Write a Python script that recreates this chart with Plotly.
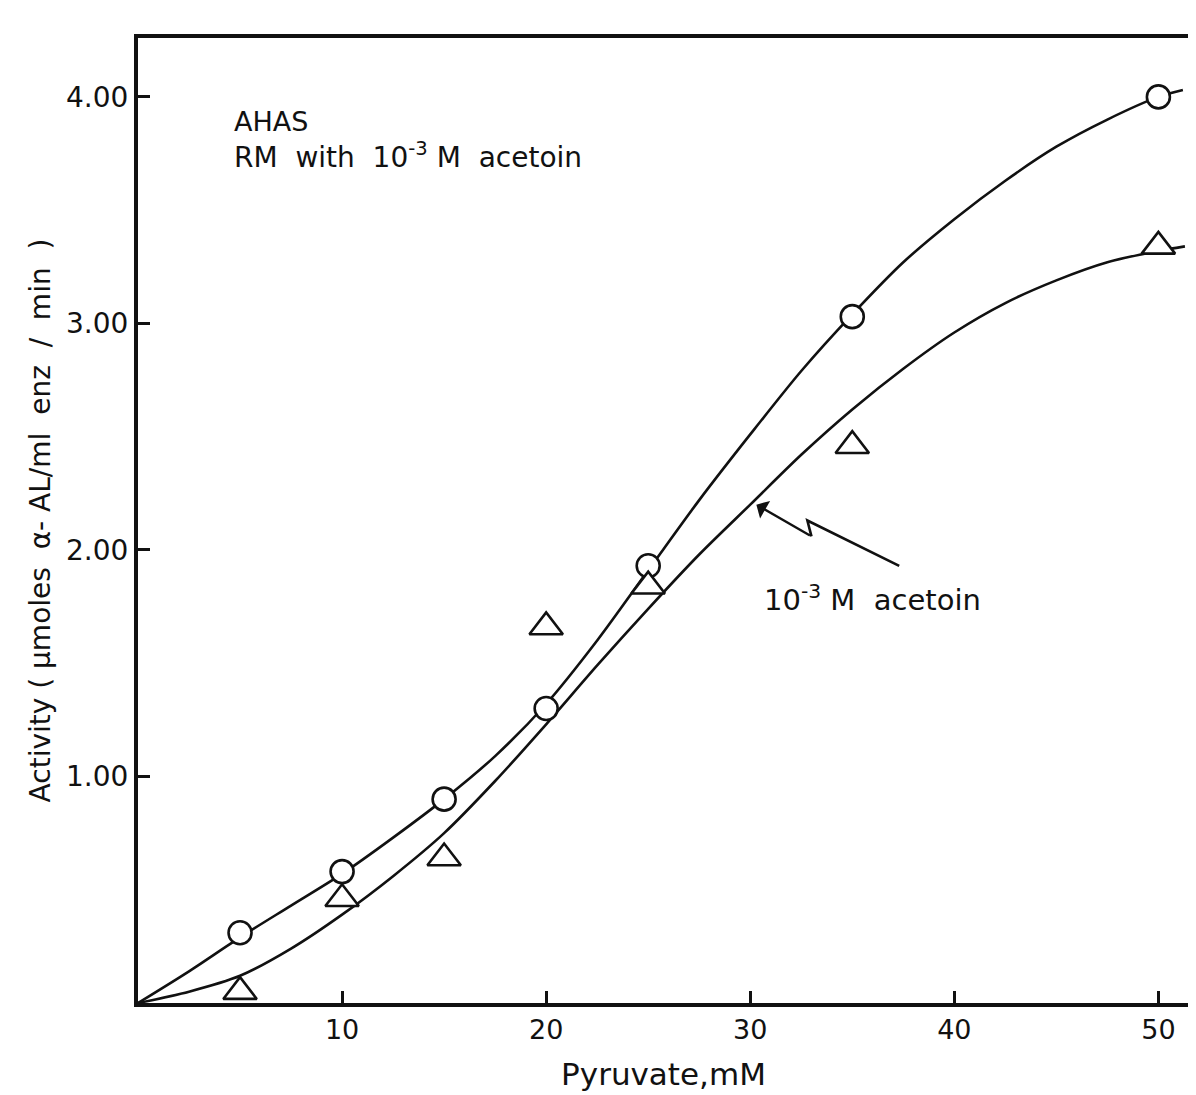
import plotly.graph_objects as go

pyruvate_mM = [5, 10, 15, 20, 25, 35, 50]
activity_control = [0.31, 0.58, 0.90, 1.30, 1.93, 3.03, 4.00]   # circles
activity_acetoin = [0.05, 0.46, 0.64, 1.66, 1.84, 2.46, 3.34]   # triangles (10^-3 M acetoin)

# Hand-drawn fitted curves
fit_control_x = [0, 2.5, 5, 7.5, 10, 12.5, 15, 17.5, 20, 22.5, 25, 27.5, 30, 32.5, 35,
                 37.5, 40, 42.5, 45, 47.5, 50, 51.2]
fit_control_y = [0, 0.14, 0.29, 0.43, 0.57, 0.73, 0.90, 1.09, 1.32, 1.60, 1.91, 2.22, 2.51,
                 2.79, 3.04, 3.27, 3.46, 3.63, 3.78, 3.90, 4.00, 4.03]
fit_acetoin_x = [0, 2.5, 5, 7.5, 10, 12.5, 15, 17.5, 20, 22.5, 25, 27.5, 30, 32.5, 35,
                 37.5, 40, 42.5, 45, 47.5, 50, 51.3]
fit_acetoin_y = [0, 0.05, 0.12, 0.24, 0.39, 0.56, 0.75, 0.98, 1.23, 1.49, 1.74, 1.98, 2.20,
                 2.42, 2.62, 2.80, 2.96, 3.09, 3.19, 3.27, 3.32, 3.34]

x_tick_vals = [10, 20, 30, 40, 50]
x_tick_text = ["10", "20", "30", "40", "50"]
y_tick_vals = [1, 2, 3, 4]
y_tick_text = ["1.00", "2.00", "3.00", "4.00"]

FONT = "DejaVu Sans"
INK = "#111111"

fig = go.Figure()

fig.add_trace(go.Scatter(
    x=fit_control_x, y=fit_control_y, mode="lines",
    line=dict(color=INK, width=2.6, shape="spline", smoothing=0.8),
    showlegend=False, hoverinfo="skip"))
fig.add_trace(go.Scatter(
    x=fit_acetoin_x, y=fit_acetoin_y, mode="lines",
    line=dict(color=INK, width=2.6, shape="spline", smoothing=0.8),
    showlegend=False, hoverinfo="skip"))

fig.add_trace(go.Scatter(
    x=pyruvate_mM, y=activity_control, mode="markers", name="RM",
    marker=dict(symbol="circle", size=23, color="white",
                line=dict(color=INK, width=2.6)),
    showlegend=False))
fig.add_trace(go.Scatter(
    x=pyruvate_mM, y=activity_acetoin, mode="markers", name="10⁻³ M acetoin",
    marker=dict(symbol="triangle-up", size=29, color="white",
                line=dict(color=INK, width=2.6)),
    showlegend=False))

# zig-zag leader line for the curve label, ending in an arrow at the lower curve
fig.add_shape(type="path", path="M 37.3 1.93 L 32.8 2.13 L 33.0 2.06",
              xref="x", yref="y", line=dict(color=INK, width=2.6))

fig.add_annotation(x=30.3, y=2.20, ax=33.0, ay=2.06, axref="x", ayref="y",
                   xref="x", yref="y", text="", showarrow=True,
                   arrowhead=1, arrowsize=1.4, arrowwidth=2.4, arrowcolor=INK)

fig.add_annotation(x=30.6, y=1.79, xref="x", yref="y", xanchor="left", yanchor="middle",
                   text="10<sup>-3</sup> M  acetoin", showarrow=False,
                   font=dict(family=FONT, size=29, color=INK))
fig.add_annotation(x=4.6, y=3.89, xref="x", yref="y", xanchor="left", yanchor="middle",
                   text="AHAS", showarrow=False,
                   font=dict(family=FONT, size=27, color=INK))
fig.add_annotation(x=4.6, y=3.74, xref="x", yref="y", xanchor="left", yanchor="middle",
                   text="RM  with  10<sup>-3</sup> M  acetoin", showarrow=False,
                   font=dict(family=FONT, size=28, color=INK))

fig.update_layout(
    width=1196, height=1095,
    margin=dict(l=130, r=15, t=30, b=100),
    plot_bgcolor="white", paper_bgcolor="white",
    font=dict(family=FONT, size=28, color=INK),
    showlegend=False,
    xaxis=dict(
        range=[0, 51.5], showgrid=False, zeroline=False,
        showline=True, linecolor=INK, linewidth=4, mirror=True,
        ticks="inside", ticklen=12, tickwidth=2.5, tickcolor=INK,
        tickvals=x_tick_vals, ticktext=x_tick_text,
        tickfont=dict(family=FONT, size=27, color=INK),
        title=dict(text="Pyruvate,mM", standoff=20,
                   font=dict(family=FONT, size=31, color=INK)),
    ),
    yaxis=dict(
        range=[0, 4.26], showgrid=False, zeroline=False,
        showline=True, linecolor=INK, linewidth=4, mirror=True,
        ticks="inside", ticklen=12, tickwidth=2.5, tickcolor=INK,
        tickvals=y_tick_vals, ticktext=y_tick_text,
        tickfont=dict(family=FONT, size=28, color=INK),
        title=dict(text="Activity ( μmoles  α- AL/ml  enz  /  min  )", standoff=8,
                   font=dict(family=FONT, size=28, color=INK)),
    ),
)

fig.write_html("out.html")
